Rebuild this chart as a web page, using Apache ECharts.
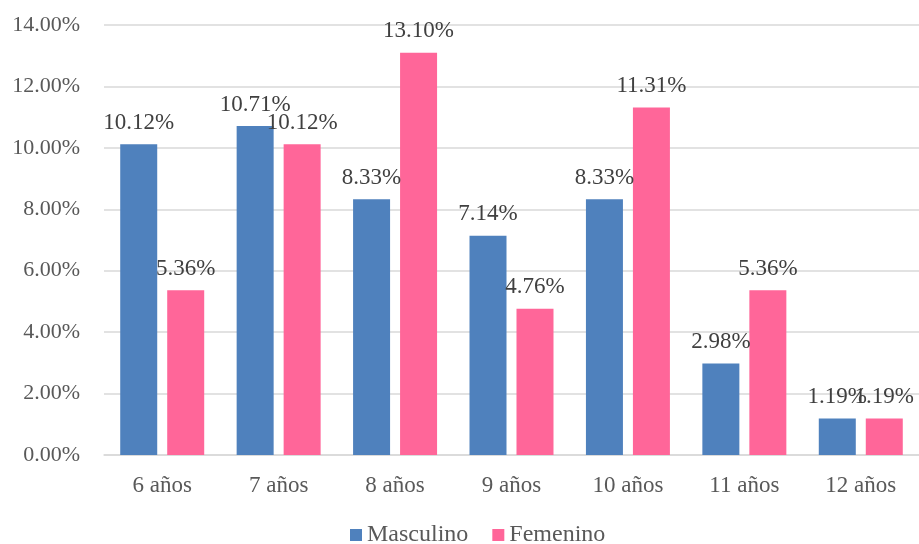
<!DOCTYPE html>
<html>
<head>
<meta charset="utf-8">
<script src="https://cdn.jsdelivr.net/npm/echarts@6/dist/echarts.min.js"></script>
<style>html,body{margin:0;padding:0;background:#fff;}#c{width:919px;height:544px;}</style>
</head>
<body>
<div id="c"></div>
<script>
var categories = ['6 años', '7 años', '8 años', '9 años', '10 años', '11 años', '12 años'];
var masculino = [10.12, 10.71, 8.33, 7.14, 8.33, 2.98, 1.19];
var femenino = [5.36, 10.12, 13.10, 4.76, 11.31, 5.36, 1.19];
var seriesNames = ['Masculino', 'Femenino'];

var FONT = '"Liberation Serif", "Times New Roman", serif';
var chart = echarts.init(document.getElementById('c'), null, {renderer: 'canvas'});
function pct(v) { return v.toFixed(2) + '%'; }
var labelCfg = {
  show: true, position: 'top', distance: 10,
  fontFamily: FONT, fontSize: 23, color: '#404040',
  formatter: function (p) { return pct(p.value); }
};
chart.setOption({
  animation: false,
  textStyle: {fontFamily: FONT},
  grid: {left: 104, right: 0, top: 25, bottom: 89, containLabel: false},
  legend: {
    top: 523, left: 350, itemWidth: 12, itemHeight: 12, itemGap: 24, padding: 0,
    icon: 'rect',
    textStyle: {fontFamily: FONT, fontSize: 24, color: '#595959', padding: [0, 0, 0, 0]},
    data: seriesNames
  },
  xAxis: {
    type: 'category', data: categories,
    axisLine: {lineStyle: {color: '#d9d9d9', width: 1.5}},
    axisTick: {show: false},
    axisLabel: {fontFamily: FONT, fontSize: 23, color: '#595959', margin: 19}
  },
  yAxis: {
    type: 'value', min: 0, max: 14, interval: 2,
    axisLine: {show: false}, axisTick: {show: false},
    splitLine: {lineStyle: {color: '#d9d9d9', width: 1.5}},
    axisLabel: {fontFamily: FONT, fontSize: 22, color: '#595959', margin: 24,
      formatter: function (v) { return pct(v); }}
  },
  series: [
    {name: seriesNames[0], type: 'bar', data: masculino, barWidth: 37, barGap: '27%',
     itemStyle: {color: '#4F81BD'}, label: labelCfg},
    {name: seriesNames[1], type: 'bar', data: femenino, barWidth: 37,
     itemStyle: {color: '#FF6699'}, label: labelCfg}
  ]
});
</script>
</body>
</html>
